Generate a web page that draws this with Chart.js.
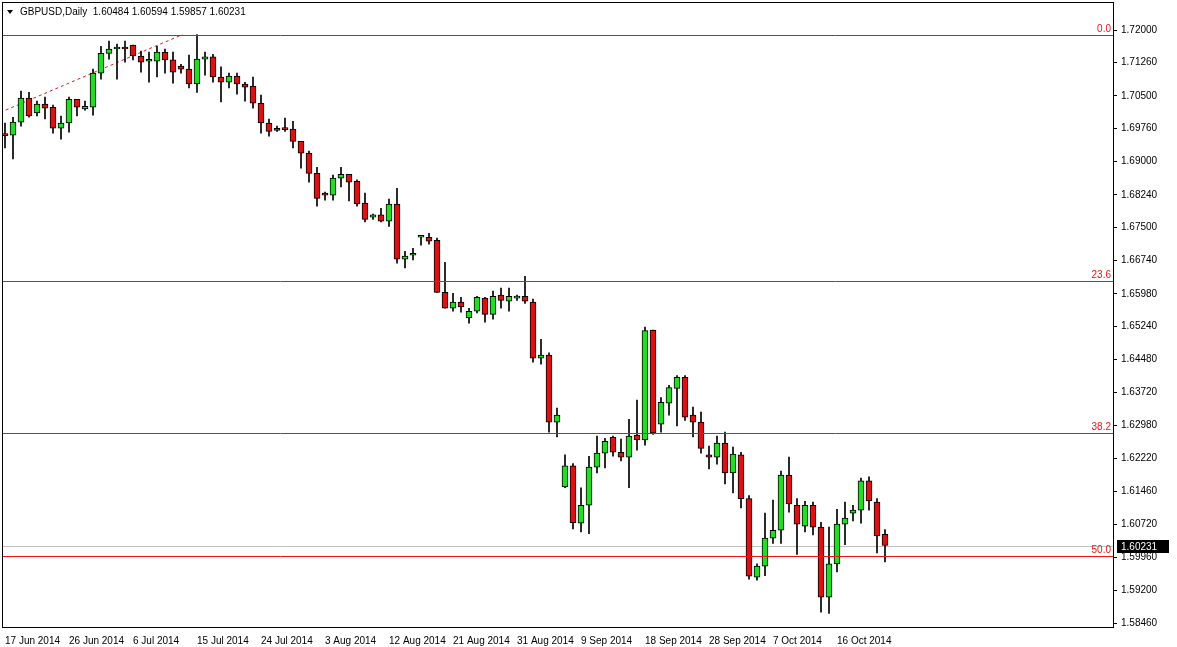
<!DOCTYPE html>
<html>
<head>
<meta charset="utf-8">
<script src="https://cdn.jsdelivr.net/npm/chart.js@4/dist/chart.umd.min.js"></script>
<style>
  html, body { margin: 0; padding: 0; background: #fff; }
  canvas { display: block; }
</style>
</head>
<body>
<canvas id="chart" width="1177" height="647"></canvas>
<script>
// GBPUSD daily bars, 17 Jun 2014 .. 24 Oct 2014 (MT4 counts Sunday bars)
const opens = [
  1.6961, 1.6960, 1.6990, 1.7045, 1.7011, 1.7031, 1.7024, 1.6976, 1.6988, 1.7042,
  1.7020, 1.7024, 1.7102, 1.7147, 1.7157, 1.7161, 1.7166, 1.7141, 1.7129, 1.7129,
  1.7150, 1.7132, 1.7118, 1.7111, 1.7077, 1.7134, 1.7139, 1.7093, 1.7081, 1.7095,
  1.7077, 1.7072, 1.7033, 1.6988, 1.6972, 1.6974, 1.6974, 1.6946, 1.6919, 1.6873,
  1.6828, 1.6823, 1.6862, 1.6871, 1.6855, 1.6805, 1.6773, 1.6778, 1.6764, 1.6803,
  1.6677, 1.6686, 1.6727, 1.6727, 1.6720, 1.6601, 1.6565, 1.6579, 1.6543, 1.6558,
  1.6588, 1.6551, 1.6595, 1.6581, 1.6588, 1.6592, 1.6579, 1.6451, 1.6458, 1.6305,
  1.6157, 1.6205, 1.6074, 1.6115, 1.6202, 1.6234, 1.6270, 1.6236, 1.6225, 1.6275,
  1.6264, 1.6515, 1.6300, 1.6348, 1.6382, 1.6407, 1.6321, 1.6305, 1.6230, 1.6225,
  1.6257, 1.6189, 1.6230, 1.6130, 1.5951, 1.5976, 1.6040, 1.6058, 1.6184, 1.6115,
  1.6067, 1.6115, 1.6065, 1.5905, 1.5981, 1.6072, 1.6097, 1.6104, 1.6171, 1.6122,
  1.60484
];
const highs = [
  1.6988, 1.7001, 1.7061, 1.7058, 1.7038, 1.7047, 1.7029, 1.7004, 1.7047, 1.7042,
  1.7038, 1.7111, 1.7163, 1.7175, 1.7168, 1.7175, 1.7166, 1.7152, 1.7150, 1.7163,
  1.7157, 1.7150, 1.7122, 1.7143, 1.7190, 1.7150, 1.7145, 1.7116, 1.7102, 1.7102,
  1.7081, 1.7093, 1.7052, 1.6997, 1.6981, 1.6999, 1.6992, 1.6946, 1.6924, 1.6887,
  1.6830, 1.6869, 1.6887, 1.6871, 1.6858, 1.6828, 1.6780, 1.6793, 1.6814, 1.6839,
  1.6695, 1.6702, 1.6728, 1.6736, 1.6725, 1.6670, 1.6599, 1.6590, 1.6565, 1.6592,
  1.6590, 1.6604, 1.6611, 1.6611, 1.6595, 1.6638, 1.6586, 1.6494, 1.6463, 1.6337,
  1.6230, 1.6210, 1.6155, 1.6227, 1.6273, 1.6268, 1.6273, 1.6266, 1.6311, 1.6355,
  1.6522, 1.6515, 1.6361, 1.6389, 1.6411, 1.6411, 1.6339, 1.6328, 1.6250, 1.6273,
  1.6282, 1.6248, 1.6236, 1.6137, 1.5981, 1.6097, 1.6127, 1.6193, 1.6225, 1.6130,
  1.6124, 1.6122, 1.6076, 1.6065, 1.6106, 1.6122, 1.6115, 1.6177, 1.6180, 1.6130,
  1.60594
];
const lows = [
  1.6931, 1.6906, 1.6981, 1.7001, 1.7004, 1.6997, 1.6965, 1.6951, 1.6967, 1.7004,
  1.7017, 1.7006, 1.7088, 1.7134, 1.7088, 1.7127, 1.7132, 1.7104, 1.7081, 1.7093,
  1.7102, 1.7079, 1.7102, 1.7068, 1.7058, 1.7097, 1.7081, 1.7036, 1.7068, 1.7054,
  1.7038, 1.7022, 1.6965, 1.6958, 1.6969, 1.6969, 1.6931, 1.6885, 1.6853, 1.6798,
  1.6812, 1.6812, 1.6842, 1.6810, 1.6798, 1.6762, 1.6768, 1.6762, 1.6752, 1.6668,
  1.6657, 1.6675, 1.6709, 1.6711, 1.6601, 1.6565, 1.6558, 1.6556, 1.6531, 1.6554,
  1.6533, 1.6540, 1.6565, 1.6558, 1.6583, 1.6576, 1.6442, 1.6437, 1.6282, 1.6271,
  1.6155, 1.6061, 1.6054, 1.6050, 1.6189, 1.6200, 1.6227, 1.6216, 1.6155, 1.6241,
  1.6252, 1.6277, 1.6282, 1.6321, 1.6296, 1.6309, 1.6271, 1.6234, 1.6198, 1.6209,
  1.6164, 1.6143, 1.6109, 1.5946, 1.5944, 1.5954, 1.6028, 1.6028, 1.6099, 1.6003,
  1.6054, 1.6047, 1.5871, 1.5868, 1.5963, 1.6025, 1.6079, 1.6074, 1.6104, 1.6006,
  1.59857
];
const closes = [
  1.6959, 1.6990, 1.7045, 1.7004, 1.7031, 1.7022, 1.6976, 1.6988, 1.7042, 1.7024,
  1.7026, 1.7102, 1.7147, 1.7157, 1.7161, 1.7157, 1.7141, 1.7127, 1.7130, 1.7150,
  1.7132, 1.7104, 1.7111, 1.7077, 1.7134, 1.7139, 1.7093, 1.7081, 1.7095, 1.7077,
  1.7070, 1.7033, 1.6988, 1.6969, 1.6971, 1.6973, 1.6946, 1.6919, 1.6873, 1.6816,
  1.6823, 1.6862, 1.6871, 1.6853, 1.6803, 1.6768, 1.6778, 1.6764, 1.6803, 1.6677,
  1.6684, 1.6687, 1.6728, 1.6718, 1.6601, 1.6565, 1.6579, 1.6568, 1.6558, 1.6590,
  1.6551, 1.6592, 1.6583, 1.6592, 1.6590, 1.6581, 1.6451, 1.6458, 1.6305, 1.6321,
  1.6205, 1.6075, 1.6115, 1.6202, 1.6234, 1.6261, 1.6236, 1.6225, 1.6273, 1.6264,
  1.6514, 1.6280, 1.6350, 1.6384, 1.6407, 1.6316, 1.6305, 1.6245, 1.6225, 1.6257,
  1.6189, 1.6232, 1.6130, 1.5953, 1.5976, 1.6040, 1.6058, 1.6184, 1.6118, 1.6072,
  1.6115, 1.6065, 1.5905, 1.5981, 1.6072, 1.6086, 1.6104, 1.6171, 1.6125, 1.6045,
  1.60231
];
const dateLabels = [
  "17 Jun 2014", "26 Jun 2014", "6 Jul 2014", "15 Jul 2014", "24 Jul 2014",
  "3 Aug 2014", "12 Aug 2014", "21 Aug 2014", "31 Aug 2014", "9 Sep 2014",
  "18 Sep 2014", "28 Sep 2014", "7 Oct 2014", "16 Oct 2014"
];
const priceTicks = [
  1.72000, 1.71260, 1.70500, 1.69760, 1.69000, 1.68240, 1.67500, 1.66740, 1.65980, 1.65240,
  1.64480, 1.63720, 1.62980, 1.62220, 1.61460, 1.60720, 1.59960, 1.59200, 1.58460
];
const fibLevels = [1.7190, 1.6628, 1.6281, 1.6000];
const fibNames = ["0.0", "23.6", "38.2", "50.0"];
const trendX = [-0.6, 22.2];
const trendY = [1.7012, 1.7190];

const BAR_STEP = 8;
const UP = '#22dd22';
const DOWN = '#dd1111';
const FIB = 'rgb(235, 20, 20)';
const FAMILY = '"Liberation Sans", Arial, sans-serif';
const FONT = '10px ' + FAMILY;

const idx = opens.map((_, i) => i);
const wicks = idx.map(i => ({x: i, y: [lows[i], highs[i]]}));
const bodies = idx.map(i => ({x: i, y: [opens[i], closes[i]]}));
const bodyColors = idx.map(i => (closes[i] >= opens[i] ? UP : DOWN));
const lastClose = closes[closes.length - 1];
const header = `GBPUSD,Daily  ${opens[opens.length - 1].toFixed(5)} ${highs[highs.length - 1].toFixed(5)} ${lows[lows.length - 1].toFixed(5)} ${lastClose.toFixed(5)}`;

const noPad = s => {
  s.paddingLeft = 0;
  s.paddingRight = 0;
  s.paddingTop = 0;
  s.paddingBottom = 0;
};

const overlay = {
  id: 'overlay',
  beforeDatasetsDraw(chart) {
    const {ctx, chartArea: a, scales: {y}} = chart;
    ctx.save();
    const ly = Math.round(y.getPixelForValue(lastClose));
    ctx.fillStyle = '#c0c0c0';
    ctx.fillRect(a.left, ly, a.right - a.left, 1);
    ctx.restore();
  },
  afterDraw(chart) {
    const {ctx, chartArea: a, scales: {y}} = chart;
    ctx.save();
    // fibonacci levels
    ctx.font = FONT;
    ctx.textAlign = 'right';
    ctx.textBaseline = 'bottom';
    fibLevels.forEach((v, k) => {
      const py = Math.round(y.getPixelForValue(v)) + 0.5;
      ctx.strokeStyle = FIB;
      ctx.fillStyle = FIB;
      ctx.lineWidth = 1;
      ctx.beginPath();
      ctx.moveTo(a.left, py);
      ctx.lineTo(a.right, py);
      ctx.stroke();
      ctx.fillText(fibNames[k], a.right - 2, py - 1);
    });
    ctx.strokeStyle = '#000';
    ctx.strokeRect(a.left - 0.5, a.top - 0.5, a.right - a.left + 1, a.bottom - a.top + 1);
    // header
    ctx.fillStyle = '#000';
    ctx.beginPath();
    ctx.moveTo(7, 10);
    ctx.lineTo(13, 10);
    ctx.lineTo(10, 14);
    ctx.closePath();
    ctx.fill();
    ctx.textAlign = 'left';
    ctx.textBaseline = 'middle';
    ctx.fillText(header, 20, 12);
    // last price box
    const ly = Math.round(y.getPixelForValue(lastClose));
    ctx.fillRect(a.right + 4, ly - 6, 52, 13);
    ctx.fillStyle = '#fff';
    ctx.fillText(lastClose.toFixed(5), a.right + 8, ly + 1);
    ctx.restore();
  }
};

new Chart(document.getElementById('chart'), {
  type: 'bar',
  data: {
    datasets: [
      {
        type: 'line',
        data: trendX.map((x, k) => ({x, y: trendY[k]})),
        borderColor: '#cc2222',
        borderWidth: 1,
        borderDash: [3, 3],
        pointRadius: 0,
        order: 3
      },
      {
        data: wicks,
        backgroundColor: '#000',
        barThickness: 1,
        grouped: false,
        order: 2
      },
      {
        data: bodies,
        backgroundColor: bodyColors,
        borderColor: '#000',
        borderWidth: 1,
        borderSkipped: false,
        barThickness: 6,
        minBarLength: 2,
        grouped: false,
        order: 1
      }
    ]
  },
  options: {
    responsive: false,
    devicePixelRatio: 1,
    animation: false,
    layout: {padding: {left: 3, top: 3}},
    plugins: {legend: {display: false}, tooltip: {enabled: false}},
    scales: {
      x: {
        type: 'linear',
        offset: false,
        min: -0.25,
        max: -0.25 + 1110 / BAR_STEP,
        grid: {display: false},
        border: {display: false},
        afterBuildTicks: s => { s.ticks = dateLabels.map((_, k) => ({value: k * 8})); },
        afterFit: s => { s.height = 20; noPad(s); },
        ticks: {
          autoSkip: false,
          maxRotation: 0,
          align: 'start',
          padding: 0,
          color: '#000',
          font: {family: FAMILY, size: 10},
          callback: v => dateLabels[Math.round(v / 8)]
        }
      },
      y: {
        position: 'right',
        min: 1.5837,
        max: 1.7262,
        grid: {display: true, drawOnChartArea: false, tickLength: 4, color: '#000'},
        border: {display: false},
        afterBuildTicks: s => { s.ticks = priceTicks.map(v => ({value: v})); },
        afterFit: s => { s.width = 64; noPad(s); },
        ticks: {
          padding: 4,
          color: '#000',
          font: {family: FAMILY, size: 10},
          callback: v => v.toFixed(5)
        }
      }
    }
  },
  plugins: [overlay]
});
</script>
</body>
</html>
